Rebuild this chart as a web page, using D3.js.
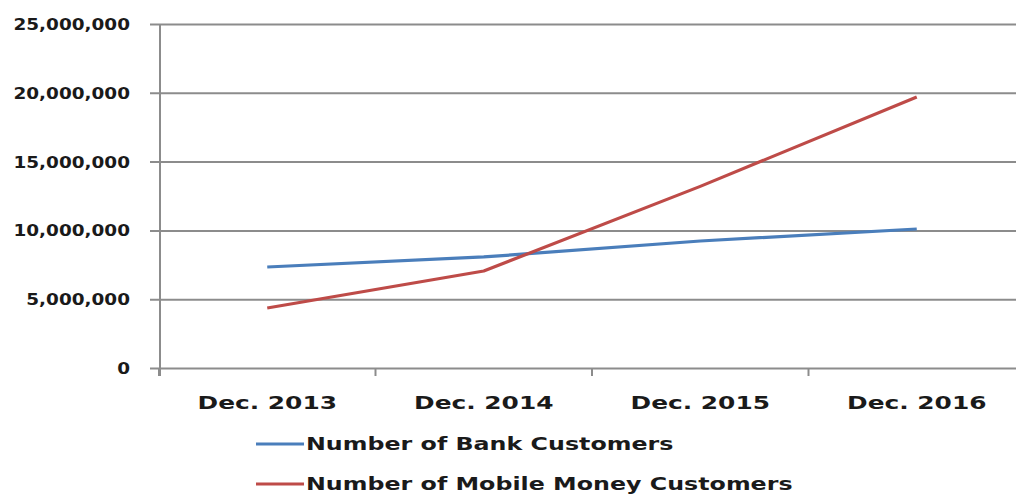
<!DOCTYPE html>
<html>
<head>
<meta charset="utf-8">
<script src="https://cdn.jsdelivr.net/npm/d3@7/dist/d3.min.js"></script>
<style>
  html, body { margin: 0; padding: 0; background: #fff; }
  svg { display: block; }
  text { font-family: "DejaVu Sans", Verdana, sans-serif; font-weight: bold; fill: #1a1a1a; }
</style>
</head>
<body>
<svg id="chart" width="1016" height="494"></svg>
<script>
// Customer counts at year end
const categories = ["Dec. 2013", "Dec. 2014", "Dec. 2015", "Dec. 2016"];
const bankCustomers = [7340000, 8070000, 9230000, 10100000];
const mobileMoneyCustomers = [4360000, 7050000, 13200000, 19700000];
const yTicks = [0, 5000000, 10000000, 15000000, 20000000, 25000000];
const seriesNames = ["Number of Bank Customers", "Number of Mobile Money Customers"];
const seriesColors = ["#4a7ebb", "#be4b48"];

(function () {
  const svg = d3.select("#chart");
  const plotLeft = 159, plotRight = 1025, plotTop = 24, plotBottom = 368;

  const x = d3.scaleBand().domain(categories).range([plotLeft, plotRight]).padding(0);
  const y = d3.scaleLinear().domain([0, 25000000]).range([plotBottom, plotTop]);

  const fmt = d3.format(",");

  // Horizontal gridlines with short ticks left of the axis
  const yAxis = d3.axisLeft(y).tickValues(yTicks).tickFormat(fmt)
    .tickSize(-(1016 - plotLeft)).tickPadding(28);
  const gy = svg.append("g").attr("transform", `translate(${plotLeft},0)`).call(yAxis);
  gy.select(".domain").remove();
  gy.selectAll(".tick line").attr("x1", -9).attr("stroke", "#8c8c8c").attr("stroke-width", 2);
  gy.selectAll(".tick text")
    .attr("font-size", 15.5)
    .attr("dy", "0.36em")
    .attr("transform", "scale(1.19,1)")
    .attr("x", -29 / 1.19)
    .style("fill", "#1a1a1a");

  // Vertical axis line
  svg.append("line")
    .attr("x1", plotLeft + 1).attr("x2", plotLeft + 1)
    .attr("y1", plotTop).attr("y2", plotBottom + 8)
    .attr("stroke", "#8c8c8c").attr("stroke-width", 2);

  // Category axis; ticks sit at the band boundaries
  const xAxis = d3.axisBottom(x).tickSize(0).tickPadding(0);
  const gx = svg.append("g").attr("transform", `translate(0,${plotBottom})`).call(xAxis);
  gx.select(".domain").remove();
  gx.selectAll(".tick text")
    .attr("font-size", 18)
    .attr("y", 0)
    .attr("dy", 0)
    .attr("transform", "translate(0,41) scale(1.38,1)")
    .style("fill", "#1a1a1a");

  const boundaries = categories.map(c => x(c))
    .concat([x(categories[categories.length - 1]) + x.bandwidth()]);
  svg.append("g").selectAll("line").data(boundaries).join("line")
    .attr("x1", d => d).attr("x2", d => d)
    .attr("y1", plotBottom).attr("y2", plotBottom + 8)
    .attr("stroke", "#8c8c8c").attr("stroke-width", 2);

  // Series lines
  const line = d3.line()
    .x((d, i) => x(categories[i]) + x.bandwidth() / 2)
    .y(d => y(d));

  [bankCustomers, mobileMoneyCustomers].forEach((vals, k) => {
    svg.append("path")
      .datum(vals)
      .attr("d", line)
      .attr("fill", "none")
      .attr("stroke", seriesColors[k])
      .attr("stroke-width", 3.2)
      .attr("stroke-linejoin", "round");
  });

  // Legend
  const legend = svg.append("g");
  const legendRows = [444, 484];
  seriesNames.forEach((name, k) => {
    const g = legend.append("g").attr("transform", `translate(0,${legendRows[k]})`);
    g.append("line")
      .attr("x1", 256).attr("x2", 304)
      .attr("y1", 0).attr("y2", 0)
      .attr("stroke", seriesColors[k]).attr("stroke-width", 3.2);
    g.append("text")
      .attr("font-size", 18)
      .attr("dy", "0.36em")
      .attr("transform", "translate(306,0) scale(1.32,1)")
      .text(name);
  });
})();
</script>
</body>
</html>
